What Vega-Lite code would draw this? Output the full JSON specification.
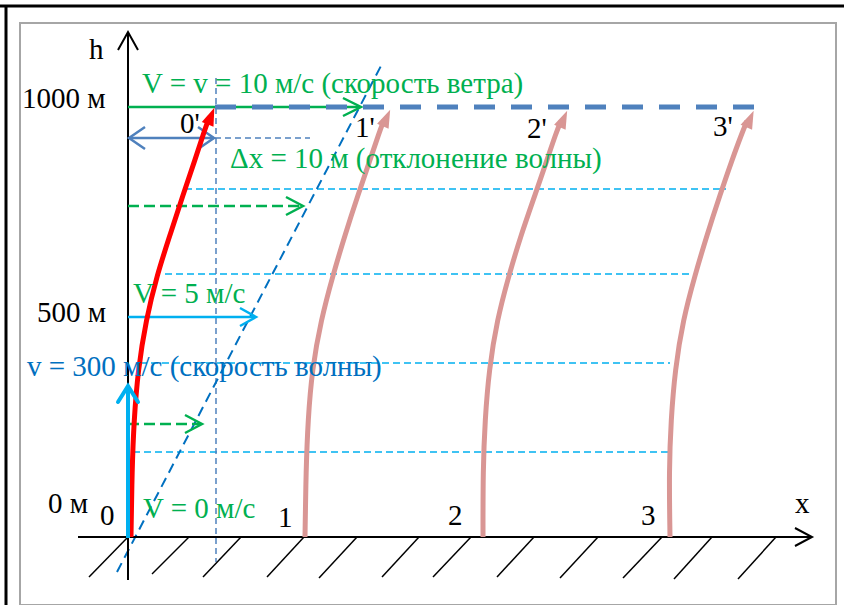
{
  "$schema": "https://vega.github.io/schema/vega-lite/v6.json",
  "width": 844,
  "height": 605,
  "padding": 0,
  "autosize": {"type": "none"},
  "background": "white",
  "config": {"view": {"stroke": null}},
  "datasets": {
    "frame": [{"x": 0, "y": 6, "x2": 844, "y2": 6}, {"x": 6, "y": 6, "x2": 6, "y2": 605}],
    "box": [{"x": 20, "y": 23, "x2": 836, "y2": 605}],
    "axes": [{"x": 128, "y": 580, "x2": 128, "y2": 33}, {"x": 78, "y": 537, "x2": 811, "y2": 537}],
    "axisHeads": [
      {"id": "h", "o": 1, "x": 118, "y": 50}, {"id": "h", "o": 2, "x": 128, "y": 32}, {"id": "h", "o": 3, "x": 138, "y": 50},
      {"id": "x", "o": 1, "x": 795, "y": 528}, {"id": "x", "o": 2, "x": 812, "y": 537}, {"id": "x", "o": 3, "x": 795, "y": 546}
    ],
    "hatch": [
      {"x": 128, "y": 537, "x2": 89, "y2": 577}, {"x": 189, "y": 537, "x2": 152, "y2": 574},
      {"x": 241, "y": 537, "x2": 203, "y2": 577}, {"x": 304, "y": 537, "x2": 267, "y2": 577},
      {"x": 357, "y": 537, "x2": 319, "y2": 578}, {"x": 419, "y": 537, "x2": 382, "y2": 577},
      {"x": 471, "y": 537, "x2": 433, "y2": 577}, {"x": 534, "y": 537, "x2": 497, "y2": 577},
      {"x": 598, "y": 537, "x2": 560, "y2": 578}, {"x": 662, "y": 537, "x2": 623, "y2": 578},
      {"x": 712, "y": 537, "x2": 674, "y2": 579}, {"x": 776, "y": 537, "x2": 738, "y2": 579}
    ],
    "guides": [
      {"x": 185, "y": 189, "x2": 726, "y2": 189},
      {"x": 165, "y": 274, "x2": 693, "y2": 274},
      {"x": 140, "y": 363, "x2": 670, "y2": 363},
      {"x": 133, "y": 452, "x2": 668, "y2": 452}
    ],
    "thinMarks": [
      {"x": 215, "y": 138, "x2": 310, "y2": 138},
      {"x": 216, "y": 78, "x2": 216, "y2": 562}
    ],
    "front": [{"x": 117, "y": 572, "x2": 383, "y2": 62}],
    "crest": [{"x": 215, "y": 107, "x2": 762, "y2": 107}],
    "windTop": [{"x": 128, "y": 107, "x2": 360, "y2": 107}],
    "windDash": [
      {"x": 128, "y": 206, "x2": 301, "y2": 206},
      {"x": 128, "y": 424, "x2": 200, "y2": 424}
    ],
    "greenHeads": [
      {"id": "a", "o": 1, "x": 343, "y": 98}, {"id": "a", "o": 2, "x": 361, "y": 107}, {"id": "a", "o": 3, "x": 343, "y": 116},
      {"id": "b", "o": 1, "x": 286, "y": 197}, {"id": "b", "o": 2, "x": 303, "y": 206}, {"id": "b", "o": 3, "x": 286, "y": 215},
      {"id": "c", "o": 1, "x": 185, "y": 415}, {"id": "c", "o": 2, "x": 202, "y": 424}, {"id": "c", "o": 3, "x": 185, "y": 433}
    ],
    "v5": [{"x": 128, "y": 317, "x2": 255, "y2": 317}],
    "v5Head": [
      {"id": "a", "o": 1, "x": 240, "y": 308}, {"id": "a", "o": 2, "x": 256, "y": 317}, {"id": "a", "o": 3, "x": 240, "y": 326}
    ],
    "waveUp": [{"x": 128, "y": 538, "x2": 128, "y2": 388}],
    "waveHead": [
      {"id": "a", "o": 1, "x": 118, "y": 402}, {"id": "a", "o": 2, "x": 128, "y": 386}, {"id": "a", "o": 3, "x": 138, "y": 402}
    ],
    "dx": [{"x": 129, "y": 138, "x2": 214, "y2": 138}],
    "dxHeads": [
      {"id": "l", "o": 1, "x": 145, "y": 127}, {"id": "l", "o": 2, "x": 129, "y": 138}, {"id": "l", "o": 3, "x": 145, "y": 149},
      {"id": "r", "o": 1, "x": 198, "y": 127}, {"id": "r", "o": 2, "x": 214, "y": 138}, {"id": "r", "o": 3, "x": 198, "y": 149}
    ],
    "redRay": [
      {"o": 1, "x": 131, "y": 537}, {"o": 2, "x": 132, "y": 470}, {"o": 3, "x": 134, "y": 420},
      {"o": 4, "x": 138, "y": 370}, {"o": 5, "x": 146, "y": 320}, {"o": 6, "x": 157, "y": 275},
      {"o": 7, "x": 170, "y": 235}, {"o": 8, "x": 183, "y": 195}, {"o": 9, "x": 195, "y": 160},
      {"o": 10, "x": 204, "y": 132}, {"o": 11, "x": 209, "y": 118}
    ],
    "redTip": [{"x": 211, "y": 116}],
    "pinkRays": [
      {"id": 1, "o": 1, "x": 305, "y": 537}, {"id": 1, "o": 2, "x": 306, "y": 470}, {"id": 1, "o": 3, "x": 308, "y": 420},
      {"id": 1, "o": 4, "x": 312, "y": 370}, {"id": 1, "o": 5, "x": 321, "y": 320}, {"id": 1, "o": 6, "x": 333, "y": 275},
      {"id": 1, "o": 7, "x": 345, "y": 235}, {"id": 1, "o": 8, "x": 358, "y": 195}, {"id": 1, "o": 9, "x": 370, "y": 160},
      {"id": 1, "o": 10, "x": 379, "y": 133}, {"id": 1, "o": 11, "x": 384, "y": 120},
      {"id": 2, "o": 1, "x": 483, "y": 537}, {"id": 2, "o": 2, "x": 483, "y": 470}, {"id": 2, "o": 3, "x": 485, "y": 420},
      {"id": 2, "o": 4, "x": 489, "y": 370}, {"id": 2, "o": 5, "x": 497, "y": 320}, {"id": 2, "o": 6, "x": 509, "y": 275},
      {"id": 2, "o": 7, "x": 521, "y": 235}, {"id": 2, "o": 8, "x": 535, "y": 195}, {"id": 2, "o": 9, "x": 547, "y": 160},
      {"id": 2, "o": 10, "x": 556, "y": 133}, {"id": 2, "o": 11, "x": 561, "y": 121},
      {"id": 3, "o": 1, "x": 670, "y": 537}, {"id": 3, "o": 2, "x": 669, "y": 470}, {"id": 3, "o": 3, "x": 671, "y": 420},
      {"id": 3, "o": 4, "x": 675, "y": 370}, {"id": 3, "o": 5, "x": 683, "y": 320}, {"id": 3, "o": 6, "x": 695, "y": 275},
      {"id": 3, "o": 7, "x": 707, "y": 235}, {"id": 3, "o": 8, "x": 720, "y": 195}, {"id": 3, "o": 9, "x": 732, "y": 160},
      {"id": 3, "o": 10, "x": 742, "y": 133}, {"id": 3, "o": 11, "x": 747, "y": 121}
    ],
    "pinkTips": [{"x": 386.5, "y": 118}, {"x": 563.5, "y": 119}, {"x": 750, "y": 119}],
    "labelsBlack": [
      {"x": 89, "y": 59, "t": "h"},
      {"x": 22, "y": 108, "t": "1000 м"},
      {"x": 37, "y": 322, "t": "500 м"},
      {"x": 48, "y": 513, "t": "0 м"},
      {"x": 100, "y": 525, "t": "0"},
      {"x": 180, "y": 133, "t": "0'"},
      {"x": 355, "y": 137, "t": "1'"},
      {"x": 527, "y": 138, "t": "2'"},
      {"x": 713, "y": 136, "t": "3'"},
      {"x": 278, "y": 527, "t": "1"},
      {"x": 448, "y": 525, "t": "2"},
      {"x": 641, "y": 525, "t": "3"},
      {"x": 795, "y": 513, "t": "x"}
    ],
    "labelsGreen": [
      {"x": 142, "y": 93, "t": "V = v = 10 м/с (скорость ветра)"},
      {"x": 230, "y": 168, "t": "Δx = 10 м (отклонение волны)"},
      {"x": 133, "y": 303, "t": "V = 5 м/с"},
      {"x": 143, "y": 518, "t": "V = 0 м/с"}
    ],
    "labelsBlue": [
      {"x": 27, "y": 376, "t": "v = 300 м/с (скорость волны)"}
    ]
  },
  "encoding": {
    "x": {"field": "x", "type": "quantitative", "scale": {"domain": [0, 844], "nice": false, "zero": false}, "axis": null},
    "y": {"field": "y", "type": "quantitative", "scale": {"domain": [0, 605], "nice": false, "zero": false, "reverse": true}, "axis": null}
  },
  "layer": [
    {"data": {"name": "box"}, "mark": {"type": "rect", "fill": null, "fillOpacity": 0, "stroke": "#a6a6a6", "strokeWidth": 2}, "encoding": {"x2": {"field": "x2"}, "y2": {"field": "y2"}}},
    {"data": {"name": "frame"}, "mark": {"type": "rule", "color": "#000000", "strokeWidth": 3}, "encoding": {"x2": {"field": "x2"}, "y2": {"field": "y2"}}},
    {"data": {"name": "guides"}, "mark": {"type": "rule", "color": "#00b0f0", "strokeWidth": 1.5, "strokeDash": [7, 4]}, "encoding": {"x2": {"field": "x2"}, "y2": {"field": "y2"}}},
    {"data": {"name": "thinMarks"}, "mark": {"type": "rule", "color": "#4f81bd", "strokeWidth": 1.5, "strokeDash": [6, 4]}, "encoding": {"x2": {"field": "x2"}, "y2": {"field": "y2"}}},
    {"data": {"name": "front"}, "mark": {"type": "rule", "color": "#0070c0", "strokeWidth": 2, "strokeDash": [10, 6]}, "encoding": {"x2": {"field": "x2"}, "y2": {"field": "y2"}}},
    {"data": {"name": "hatch"}, "mark": {"type": "rule", "color": "#000000", "strokeWidth": 1.5}, "encoding": {"x2": {"field": "x2"}, "y2": {"field": "y2"}}},
    {"data": {"name": "axes"}, "mark": {"type": "rule", "color": "#000000", "strokeWidth": 2}, "encoding": {"x2": {"field": "x2"}, "y2": {"field": "y2"}}},
    {"data": {"name": "axisHeads"}, "mark": {"type": "line", "color": "#000000", "strokeWidth": 2}, "encoding": {"detail": {"field": "id"}, "order": {"field": "o"}}},
    {"data": {"name": "windTop"}, "mark": {"type": "rule", "color": "#00b050", "strokeWidth": 2.5}, "encoding": {"x2": {"field": "x2"}, "y2": {"field": "y2"}}},
    {"data": {"name": "windDash"}, "mark": {"type": "rule", "color": "#00b050", "strokeWidth": 2.5, "strokeDash": [11, 5]}, "encoding": {"x2": {"field": "x2"}, "y2": {"field": "y2"}}},
    {"data": {"name": "greenHeads"}, "mark": {"type": "line", "color": "#00b050", "strokeWidth": 2.5}, "encoding": {"detail": {"field": "id"}, "order": {"field": "o"}}},
    {"data": {"name": "v5"}, "mark": {"type": "rule", "color": "#00b0f0", "strokeWidth": 2.5}, "encoding": {"x2": {"field": "x2"}, "y2": {"field": "y2"}}},
    {"data": {"name": "v5Head"}, "mark": {"type": "line", "color": "#00b0f0", "strokeWidth": 2.5}, "encoding": {"detail": {"field": "id"}, "order": {"field": "o"}}},
    {"data": {"name": "dx"}, "mark": {"type": "rule", "color": "#4f81bd", "strokeWidth": 2.5}, "encoding": {"x2": {"field": "x2"}, "y2": {"field": "y2"}}},
    {"data": {"name": "dxHeads"}, "mark": {"type": "line", "color": "#4f81bd", "strokeWidth": 2.5}, "encoding": {"detail": {"field": "id"}, "order": {"field": "o"}}},
    {"data": {"name": "pinkRays"}, "mark": {"type": "line", "color": "#d99694", "strokeWidth": 5, "interpolate": "basis"}, "encoding": {"detail": {"field": "id"}, "order": {"field": "o"}}},
    {"data": {"name": "pinkTips"}, "mark": {"type": "point", "shape": "M0,-1L-0.7,1L0.7,1Z", "filled": true, "color": "#d99694", "opacity": 1, "size": 324, "angle": 24}},
    {"data": {"name": "redRay"}, "mark": {"type": "line", "color": "#ff0000", "strokeWidth": 5, "interpolate": "basis"}, "encoding": {"order": {"field": "o"}}},
    {"data": {"name": "redTip"}, "mark": {"type": "point", "shape": "M0,-1L-0.7,1L0.7,1Z", "filled": true, "color": "#ff0000", "opacity": 1, "size": 324, "angle": 22}},
    {"data": {"name": "waveUp"}, "mark": {"type": "rule", "color": "#00b0f0", "strokeWidth": 4}, "encoding": {"x2": {"field": "x2"}, "y2": {"field": "y2"}}},
    {"data": {"name": "waveHead"}, "mark": {"type": "line", "color": "#00b0f0", "strokeWidth": 4, "strokeCap": "round"}, "encoding": {"detail": {"field": "id"}, "order": {"field": "o"}}},
    {"data": {"name": "crest"}, "mark": {"type": "rule", "color": "#4f81bd", "strokeWidth": 5, "strokeDash": [21, 16]}, "encoding": {"x2": {"field": "x2"}, "y2": {"field": "y2"}}},
    {"data": {"name": "labelsBlack"}, "mark": {"type": "text", "font": "Liberation Serif", "fontSize": 29, "color": "#000000", "align": "left", "baseline": "alphabetic"}, "encoding": {"text": {"field": "t"}}},
    {"data": {"name": "labelsGreen"}, "mark": {"type": "text", "font": "Liberation Serif", "fontSize": 29, "color": "#00b050", "align": "left", "baseline": "alphabetic"}, "encoding": {"text": {"field": "t"}}},
    {"data": {"name": "labelsBlue"}, "mark": {"type": "text", "font": "Liberation Serif", "fontSize": 29, "color": "#0070c0", "align": "left", "baseline": "alphabetic"}, "encoding": {"text": {"field": "t"}}}
  ]
}
